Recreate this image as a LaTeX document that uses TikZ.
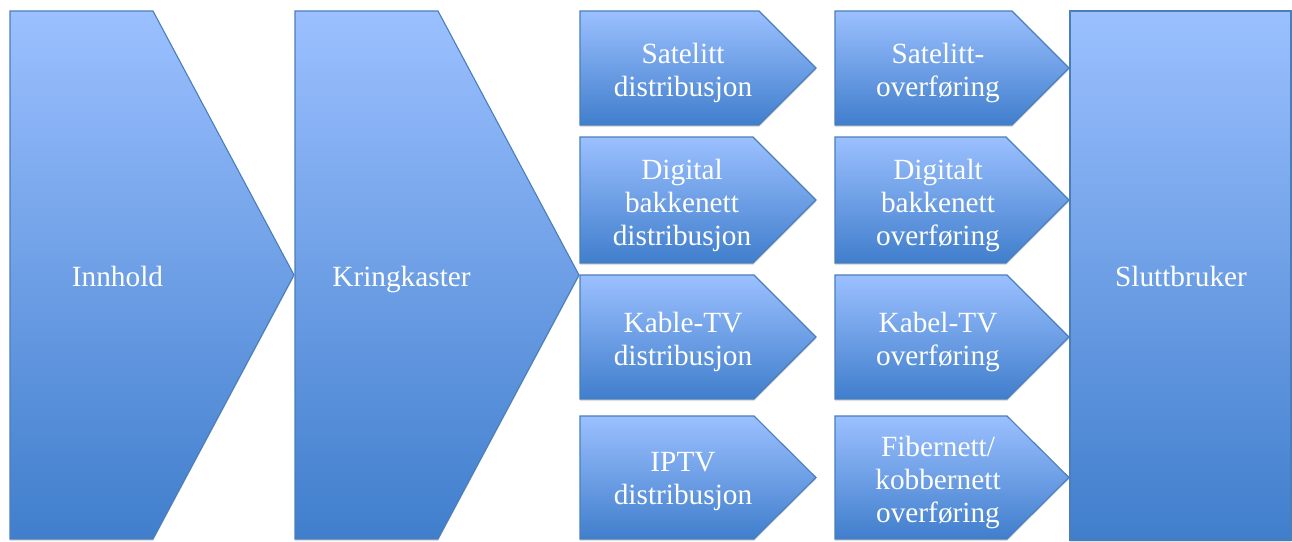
\documentclass[tikz,border=0pt]{standalone}
\usepackage{fontspec}
\setmainfont{Liberation Serif}
\usetikzlibrary{shadows}
\definecolor{gtop}{RGB}{155,192,255}
\definecolor{gbot}{RGB}{64,126,204}
\definecolor{edge}{RGB}{74,126,187}
\tikzset{
  shapebox/.style={draw=edge, line width=1.1pt, line join=miter, top color=gtop, bottom color=gbot,
    drop shadow={opacity=0.25, shadow xshift=0pt, shadow yshift=-2pt}},
  label/.style={text=white, align=center, font=\fontsize{29.3}{33}\selectfont, inner sep=0pt}
}
\begin{document}
\begin{tikzpicture}[x=1pt,y=-1pt]
\useasboundingbox (0,0) rectangle (1292,541);
% big shapes
\path[shapebox] (10,11) -- (153,11) -- (294,275) -- (153,539) -- (10,539) -- cycle;
\path[shapebox] (295,11) -- (438,11) -- (579,275) -- (438,539) -- (295,539) -- cycle;
\path[shapebox] (1070,11) rectangle (1291,540);
% column 3
\path[shapebox] (580,11) -- (759,11) -- (816,68) -- (759,125) -- (580,125) -- cycle;
\path[shapebox] (580,137) -- (753,137) -- (816,200) -- (753,263) -- (580,263) -- cycle;
\path[shapebox] (580,275) -- (754,275) -- (816,337) -- (754,399) -- (580,399) -- cycle;
\path[shapebox] (580,416) -- (754,416) -- (816,477.5) -- (754,539) -- (580,539) -- cycle;
% column 4
\path[shapebox] (835,11) -- (1012,11) -- (1069,68) -- (1012,125) -- (835,125) -- cycle;
\path[shapebox] (835,137) -- (1006,137) -- (1069,200) -- (1006,263) -- (835,263) -- cycle;
\path[shapebox] (835,275) -- (1007,275) -- (1069,337) -- (1007,399) -- (835,399) -- cycle;
\path[shapebox] (835,416) -- (1007,416) -- (1069,477.5) -- (1007,539) -- (835,539) -- cycle;
% labels
\node[label, anchor=base] (innhold) at (117.5,286) {Innhold};
\node[label, anchor=base] (kring) at (401.5,286) {Kringkaster};
\node[label, anchor=base] (slutt) at (1181,286) {Sluttbruker};
\node[label] (d1) at (683,73) {Satelitt\\distribusjon};
\node[label] (d2) at (682,205) {Digital\\bakkenett\\distribusjon};
\node[label] (d3) at (683,342) {Kable-TV\\distribusjon};
\node[label] (d4) at (683,482) {IPTV\\distribusjon};
\node[label] (o1) at (938,73) {Satelitt-\\overføring};
\node[label] (o2) at (938,205) {Digitalt\\bakkenett\\overføring};
\node[label] (o3) at (938,342) {Kabel-TV\\overføring};
\node[label] (o4) at (938,482) {Fibernett/\\kobbernett\\overføring};
\end{tikzpicture}
\end{document}
